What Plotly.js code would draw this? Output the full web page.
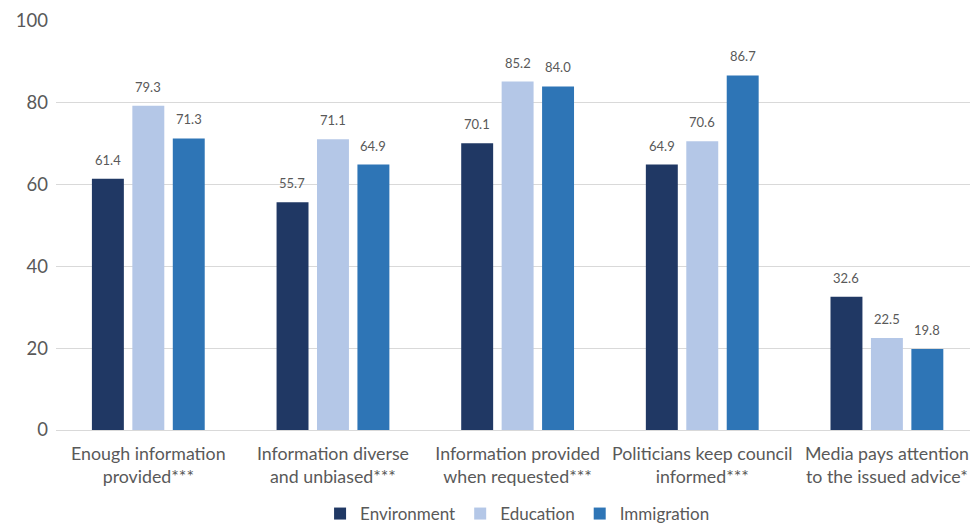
<!DOCTYPE html>
<html><head><meta charset="utf-8">
<script src="https://cdn.plot.ly/plotly-3.0.1.min.js"></script>
<style>html,body{margin:0;padding:0;background:#fff;}#chart{width:970px;height:528px;}</style>
</head><body><div id="chart"></div>
<script>
var categories = ["Enough information<br>provided***", "Information diverse<br>and unbiased***", "Information provided<br>when requested***", "Politicians keep council<br>informed***", "Media pays attention<br>to the issued advice*"];
var environment = [61.4, 55.7, 70.1, 64.9, 32.6];
var education = [79.3, 71.1, 85.2, 70.6, 22.5];
var immigration = [71.3, 64.9, 84.0, 86.7, 19.8];
var seriesNames = ["Environment", "Education", "Immigration"];
var colors = ["#203864", "#B4C7E7", "#2E75B6"];
var yTicks = [0, 20, 40, 60, 80, 100];

var font = "Lato, 'Open Sans', sans-serif";
var seriesVals = [environment, education, immigration];
var data = seriesVals.map(function(vals, s) {
  return {type: "bar", name: seriesNames[s], x: categories, y: vals, marker: {color: colors[s]}, hoverinfo: "none"};
});
var annotations = [];
seriesVals.forEach(function(vals, s) {
  vals.forEach(function(v, i) {
    annotations.push({x: categories[i], y: v, xref: "x", yref: "y", text: v.toFixed(1), showarrow: false,
      xanchor: "center", yanchor: "bottom", xshift: (s - 1) * 40.5, yshift: 9,
      font: {size: 13, color: "#595959", family: font}});
  });
});
var layout = {
  width: 970, height: 528,
  margin: {l: 56, r: 0, t: 21, b: 98, autoexpand: false},
  paper_bgcolor: "#fff", plot_bgcolor: "#fff",
  barmode: "group", bargap: 0.343, bargroupgap: 0.21,
  font: {family: font, color: "#595959"},
  annotations: annotations,
  xaxis: {range: [-0.5, 4.45], tickfont: {size: 17.8, color: "#595959"}, showline: true, linecolor: "#d9d9d9", linewidth: 1, ticks: "", showgrid: false, ticklabelstandoff: 8},
  yaxis: {range: [0, 100], tickvals: yTicks, tickfont: {size: 18.5, color: "#595959"}, gridcolor: "#d9d9d9", gridwidth: 1, zeroline: false, ticks: "", ticklen: 0, ticklabelstandoff: 7},
  showlegend: true,
  legend: {orientation: "h", x: 0.505, xanchor: "center", yref: "container", y: 14/528, yanchor: "middle", font: {size: 17, color: "#595959"}, itemwidth: 30, traceorder: "normal"}
};
Plotly.newPlot("chart", data, layout, {displayModeBar: false, staticPlot: true});
</script></body></html>
